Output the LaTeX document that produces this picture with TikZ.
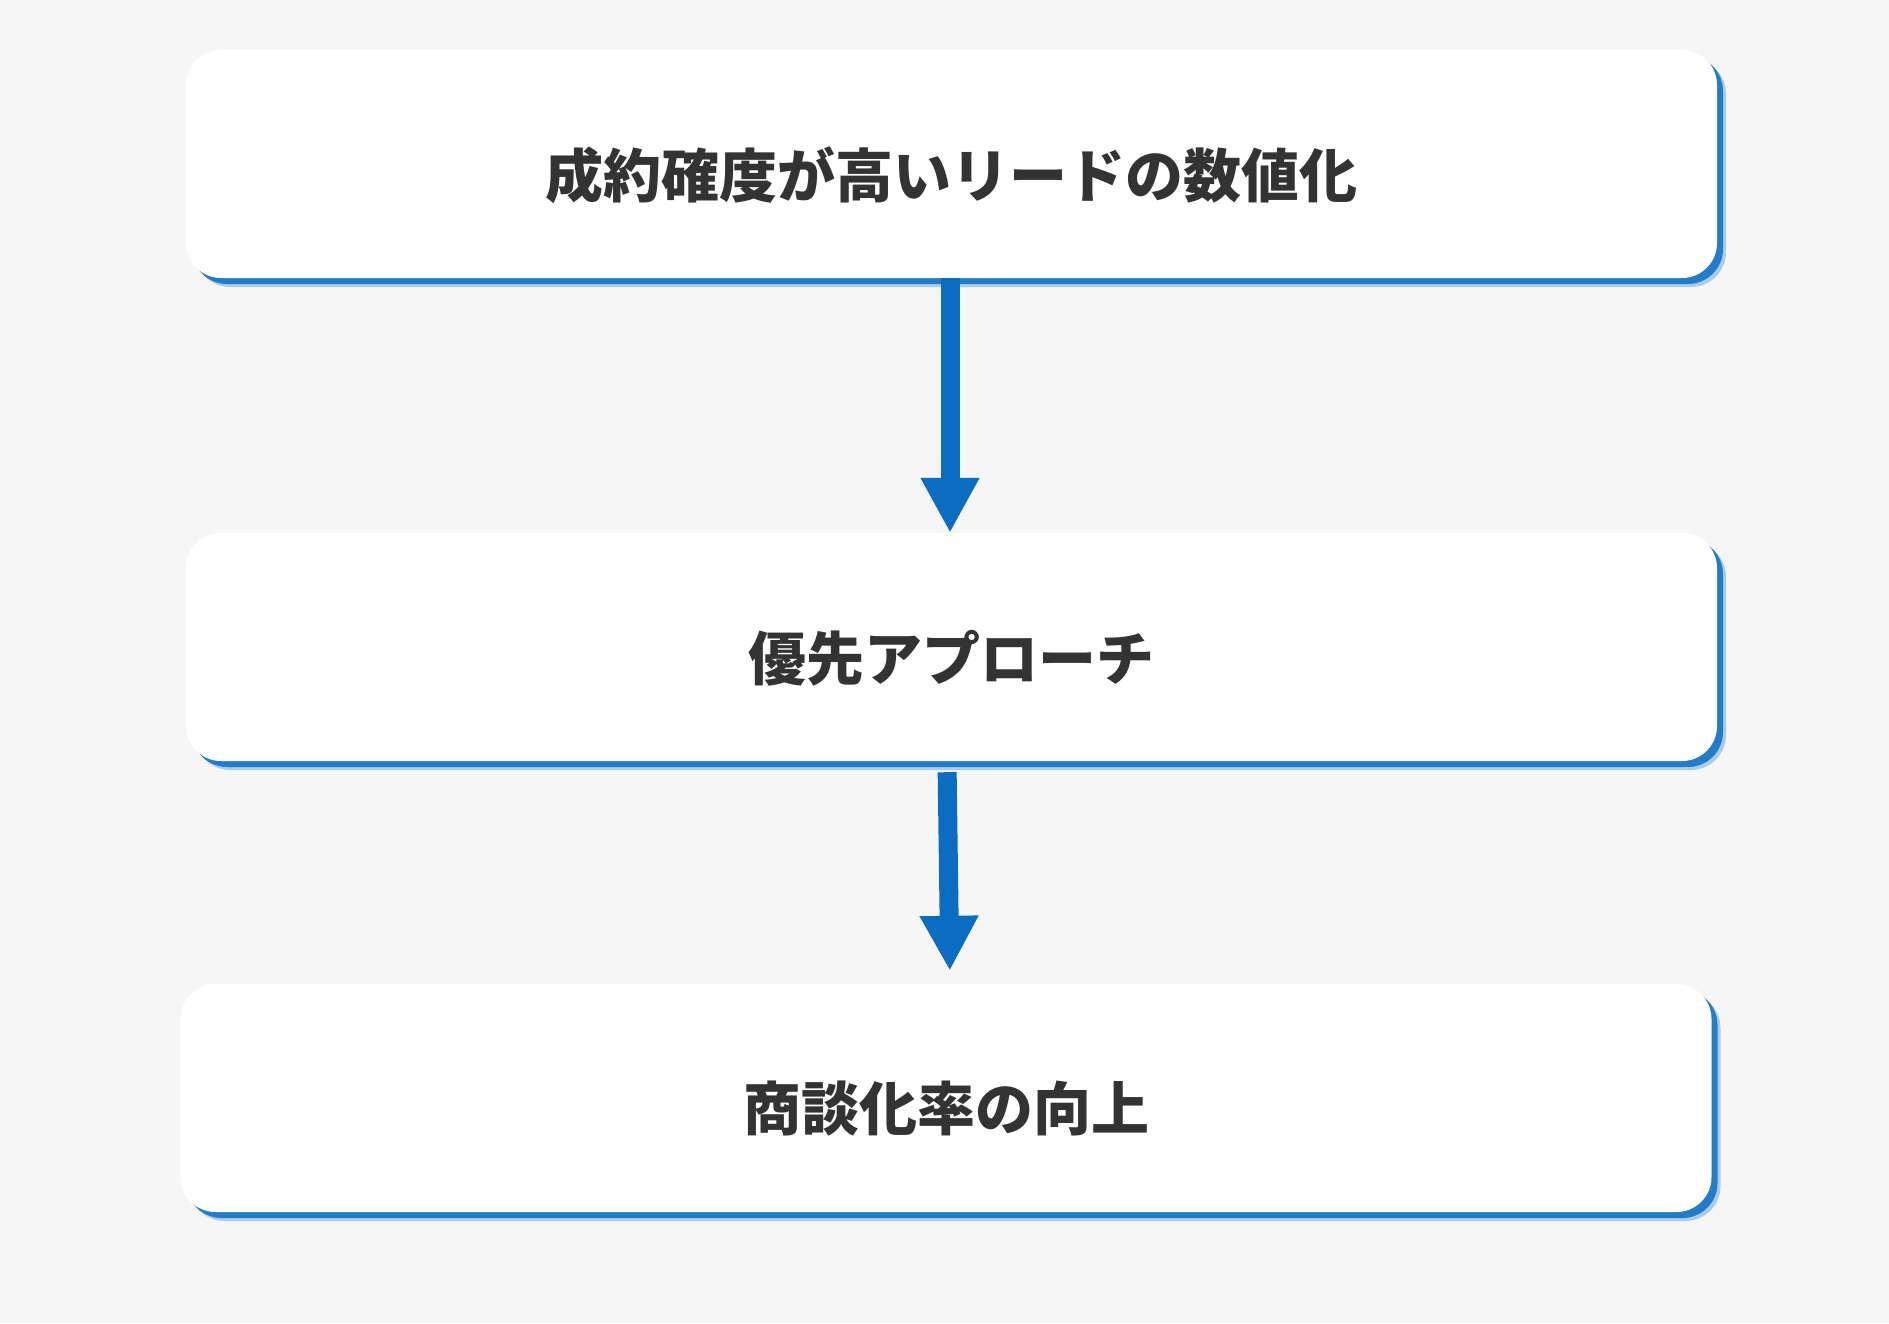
\documentclass[tikz,border=0pt]{standalone}
\usepackage{fontspec}
\newfontfamily\jpfont{Noto Sans CJK JP}
\usetikzlibrary{arrows.meta,shadows}
\definecolor{bgcol}{HTML}{F6F6F7}
\definecolor{flowblue}{HTML}{0B6DC2}
\definecolor{textgray}{HTML}{333333}
\tikzset{
  stepbox/.style={rectangle, fill=white, rounded corners=35pt,
    minimum width=1531pt, minimum height=228pt, inner sep=0pt,
    drop shadow={shadow xshift=9pt, shadow yshift=-9pt, fill=flowblue!35, opacity=1},
    drop shadow={shadow xshift=6pt, shadow yshift=-6pt, fill=flowblue!90, opacity=1}},
  steptext/.style={inner sep=0pt, text=textgray,
    font=\jpfont\bfseries\fontsize{58}{70}\selectfont},
  flowarrow/.style={draw=flowblue, line width=19pt,
    -{Triangle[width=55pt,length=55pt]}}
}
\begin{document}
\begin{tikzpicture}[x=1pt,y=-1pt]
    %% background
    \fill[bgcol] (0,0) rectangle (1889,1323);
    \useasboundingbox (0,0) rectangle (1889,1323);
    %% boxes
    \node[stepbox] (lead)     at (951.5,164) {};
    \node[stepbox] (approach) at (951.5,647) {};
    \node[stepbox] (rate)     at (946,1098) {};
    %% labels
    \node[steptext] (leadtxt)     at ([yshift=-11pt]lead.center)     {成約確度が高いリードの数値化};
    \node[steptext] (approachtxt) at ([yshift=-11pt]approach.center) {優先アプローチ};
    \node[steptext] (ratetxt)     at ([yshift=-10pt]rate.center)     {商談化率の向上};
    %% arrows
    \draw[flowarrow] ([xshift=-1.5pt]lead.south) -- ([xshift=-1.5pt]approach.north);
    \draw[flowarrow, shorten <=11pt, shorten >=13pt] ([xshift=-4.5pt]approach.south) -- ([xshift=4pt]rate.north);
\end{tikzpicture}
\end{document}
